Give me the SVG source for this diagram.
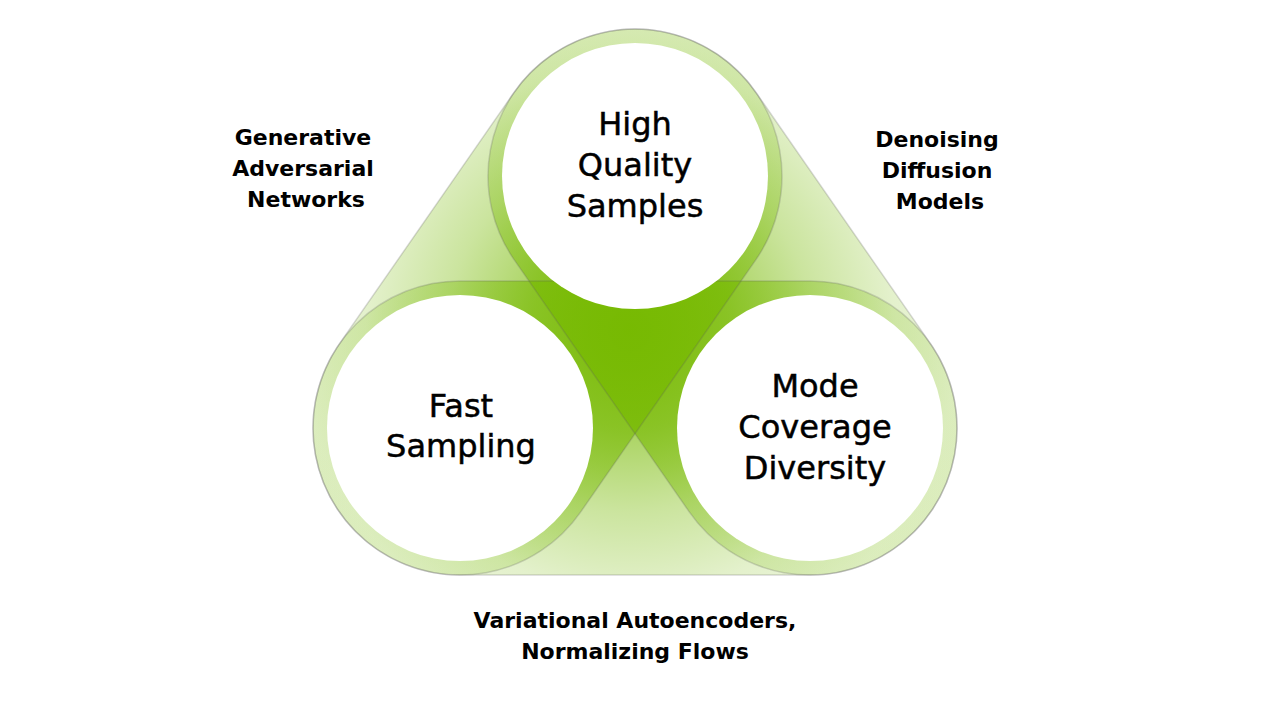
<svg xmlns="http://www.w3.org/2000/svg" width="1280" height="720" viewBox="0 0 1280 720">
  <defs>
    <radialGradient id="g" gradientUnits="userSpaceOnUse" cx="630" cy="330" r="330">
      <stop offset="0" stop-color="#76b900" stop-opacity="0.8"/>
      <stop offset="0.3" stop-color="#76b900" stop-opacity="0.62"/>
      <stop offset="0.55" stop-color="#76b900" stop-opacity="0.38"/>
      <stop offset="0.8" stop-color="#76b900" stop-opacity="0.2"/>
      <stop offset="1" stop-color="#76b900" stop-opacity="0.14"/>
    </radialGradient>
    <style>
      .cap { fill: url(#g); stroke: none; }
      .capline { fill: none; stroke: #5a5a5a; stroke-opacity: 0.24; stroke-width: 1.5; }
      .node { fill: #ffffff; }
      .nl { font-family: "DejaVu Sans", "Liberation Sans", sans-serif; font-size: 32px; fill: #000; stroke: #000; stroke-width: 0.5; text-anchor: middle; }
      .el { font-family: "DejaVu Sans", "Liberation Sans", sans-serif; font-size: 22px; font-weight: bold; fill: #000; text-anchor: middle; }
    </style>
  </defs>
  <rect width="1280" height="720" fill="#ffffff"/>
  <g id="connectors">
    <path id="cap-gan" class="cap" d="M514.25,92.15 L339.25,344.15 A147,147 0 0 0 580.75,511.85 L755.75,259.85 A147,147 0 0 0 514.25,92.15 Z"/>
    <path id="cap-ddm" class="cap" d="M755.75,92.15 L930.75,344.15 A147,147 0 0 1 689.25,511.85 L514.25,259.85 A147,147 0 0 1 755.75,92.15 Z"/>
    <path id="cap-vae" class="cap" d="M460,281 L810,281 A147,147 0 0 1 810,575 L460,575 A147,147 0 0 1 460,281 Z"/>
    <path class="capline" d="M514.25,92.15 L339.25,344.15 A147,147 0 0 0 580.75,511.85 L755.75,259.85 A147,147 0 0 0 514.25,92.15 Z"/>
    <path class="capline" d="M755.75,92.15 L930.75,344.15 A147,147 0 0 1 689.25,511.85 L514.25,259.85 A147,147 0 0 1 755.75,92.15 Z"/>
    <path class="capline" d="M460,281 L810,281 A147,147 0 0 1 810,575 L460,575 A147,147 0 0 1 460,281 Z"/>
    <g id="label-gan">
      <text class="el" x="303" y="145">Generative</text>
      <text class="el" x="303" y="176">Adversarial</text>
      <text class="el" x="306" y="207">Networks</text>
    </g>
    <g id="label-ddm">
      <text class="el" x="937" y="147">Denoising</text>
      <text class="el" x="937" y="178">Diffusion</text>
      <text class="el" x="940" y="209">Models</text>
    </g>
    <g id="label-vae">
      <text class="el" x="635" y="628">Variational Autoencoders,</text>
      <text class="el" x="635" y="659">Normalizing Flows</text>
    </g>
  </g>
  <g id="node-quality">
    <circle class="node" cx="635" cy="176" r="133"/>
    <text class="nl" x="635" y="135">High</text>
    <text class="nl" x="635" y="176">Quality</text>
    <text class="nl" x="635" y="217">Samples</text>
  </g>
  <g id="node-fast">
    <circle class="node" cx="460" cy="428" r="133"/>
    <text class="nl" x="461" y="417">Fast</text>
    <text class="nl" x="461" y="457">Sampling</text>
  </g>
  <g id="node-diversity">
    <circle class="node" cx="810" cy="428" r="133"/>
    <text class="nl" x="815" y="397">Mode</text>
    <text class="nl" x="815" y="438">Coverage</text>
    <text class="nl" x="815" y="479">Diversity</text>
  </g>
</svg>
